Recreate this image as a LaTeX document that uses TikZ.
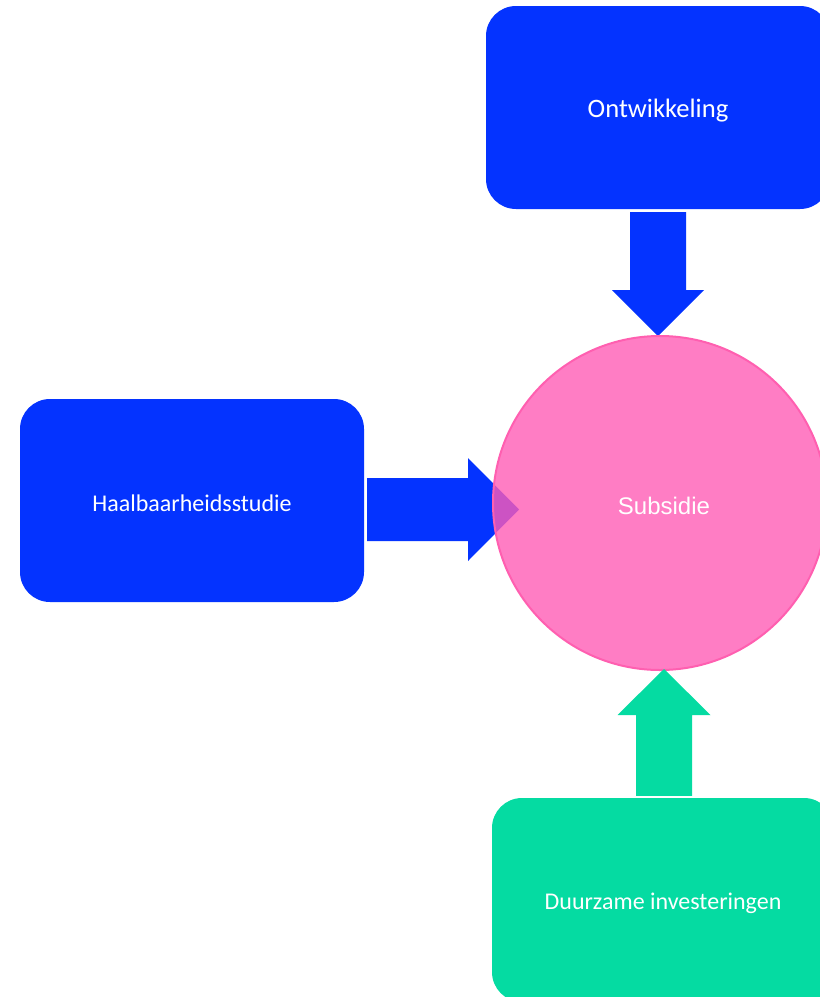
\documentclass[tikz,border=0pt]{standalone}
\usepackage{fontspec}
\setmainfont{Carlito}
\newfontfamily\arialfont{Liberation Sans}
\usetikzlibrary{calc}
\definecolor{boxblue}{HTML}{0433FF}
\definecolor{boxgreen}{HTML}{05DBA2}
\definecolor{circpink}{HTML}{FF5CB5}
\definecolor{circedge}{HTML}{FF5FB0}
\newcommand{\lowtext}[1]{\raisebox{-3pt}[\height][\depth]{#1}}
\tikzset{
  box/.style={rectangle, rounded corners=30pt, inner sep=0pt, text=white,
    font=\fontsize{24}{28}\selectfont}
}
\begin{document}
\begin{tikzpicture}[x=1pt,y=-1pt]
\useasboundingbox (0,0) rectangle (820,997);
% boxes
\node[box, fill=boxblue, minimum width=344pt, minimum height=203pt,
  font=\fontsize{26.6}{30}\selectfont] (ont) at (658,107.5) {\lowtext{Ontwikkeling}};
\node[box, fill=boxblue, minimum width=344pt, minimum height=203pt] (haal) at (192,500.5) {\lowtext{Haalbaarheidsstudie}};
\node[box, fill=boxgreen, minimum width=342pt, minimum height=204pt] (duur) at (663,900) {\lowtext{Duurzame investeringen}};
% circle position
\coordinate (c) at (660,503);
% left arrow (under the circle)
\coordinate (lt) at (519,509.5);
\coordinate (ls) at ($(haal.east |- lt)+(3,0)$);
\fill[boxblue] ($(ls)+(0,-31.5)$) -- ($(lt)+(-51,-31.5)$) -- ($(lt)+(-51,-51.5)$) -- (lt)
  -- ($(lt)+(-51,51.5)$) -- ($(lt)+(-51,31.5)$) -- ($(ls)+(0,31.5)$) -- cycle;
% top arrow
\coordinate (tt) at (658,336);
\fill[boxblue] ($(ont.south)+(-28,3)$) -- ($(tt)+(-28,-46)$) -- ($(tt)+(-46,-46)$) -- (tt)
  -- ($(tt)+(46,-46)$) -- ($(tt)+(28,-46)$) -- ($(ont.south)+(28,3)$) -- cycle;
% circle
\node[circle, minimum size=334pt, inner sep=0pt, fill=circpink, fill opacity=0.8,
  draw=circedge, line width=2pt, text opacity=1, text=white,
  font=\arialfont\fontsize{24}{28}\selectfont] (sub) at (c) {\hspace*{8pt}\lowtext{Subsidie}};
% bottom arrow
\coordinate (bt) at (664,669);
\fill[boxgreen] ($(duur.north)+(-27,-2)$) -- ($(bt)+(-28,46)$) -- ($(bt)+(-46.5,46)$) -- (bt)
  -- ($(bt)+(46.5,46)$) -- ($(bt)+(28,46)$) -- ($(duur.north)+(29,-2)$) -- cycle;
\end{tikzpicture}
\end{document}
